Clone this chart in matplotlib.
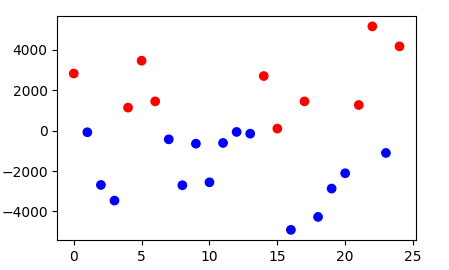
import numpy as np
import matplotlib
matplotlib.use("Agg")
import matplotlib.pyplot as plt

# Values
x = np.arange(25)
y = np.array([2830, -80, -2690, -3465, 1140, 3465, 1450, -430, -2705, -645,
              -2560, -610, -65, -150, 2705, 100, -4915, 1450, -4275, -2870,
              -2110, 1270, 5165, -1105, 4175])

colors = np.where(y > 0, 'red', 'blue')

fig = plt.figure(figsize=(4.49, 2.70), dpi=100)
ax = fig.add_subplot(111)
fig.subplots_adjust(left=0.128, right=0.926, top=0.94, bottom=0.111)
ax.scatter(x, y, c=colors)

fig.savefig("out.png", dpi=100)
